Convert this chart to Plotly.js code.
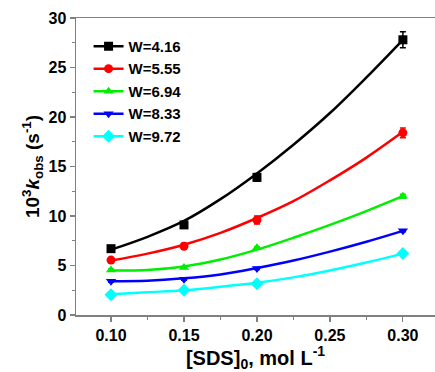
<!DOCTYPE html>
<html>
<head>
<meta charset="utf-8">
<script src="https://cdn.plot.ly/plotly-3.0.1.min.js"></script>
<style>html,body{margin:0;padding:0;background:#fff}#chart{width:435px;height:372px}</style>
</head>
<body>
<div id="chart"></div>
<script>
// measured points
const sds = [0.10, 0.15, 0.20, 0.30];
const k416 = [6.7, 9.1, 13.9, 27.8];
const k555 = [5.55, 6.95, 9.6, 18.4];
const k694 = [4.55, 4.8, 6.8, 12.0];
const k833 = [3.4, 3.6, 4.7, 8.5];
const k972 = [2.05, 2.5, 3.15, 6.2];
const err416 = [0.3, 0.3, 0.4, 0.8];
const err555 = [0.2, 0.3, 0.4, 0.5];
const err694 = [0.1, 0.1, 0.1, 0.2];
const err833 = [0.1, 0.1, 0.1, 0.1];
const err972 = [0.1, 0.1, 0.1, 0.1];
// fitted curves
const fitX = [0.10, 0.125, 0.15, 0.175, 0.20, 0.225, 0.25, 0.275, 0.30];
const fit416 = [6.6, 7.9, 9.5, 11.7, 14.3, 17.2, 20.4, 24.0, 27.8];
const fit555 = [5.5, 6.2, 7.1, 8.3, 9.8, 11.5, 13.6, 15.9, 18.5];
const fit694 = [4.5, 4.55, 4.9, 5.6, 6.6, 7.8, 9.1, 10.5, 12.0];
const fit833 = [3.4, 3.45, 3.7, 4.1, 4.75, 5.5, 6.4, 7.4, 8.5];
const fit972 = [2.1, 2.3, 2.5, 2.85, 3.25, 3.8, 4.5, 5.3, 6.2];
const names = ['W=4.16', 'W=5.55', 'W=6.94', 'W=8.33', 'W=9.72'];

const colors = ['#000000', '#ff0000', '#00ee00', '#0000ff', '#00ffff'];
const symbols = ['square', 'circle', 'triangle-up', 'triangle-down', 'diamond'];
const pts = [k416, k555, k694, k833, k972];
const errs = [err416, err555, err694, err833, err972];
const fits = [fit416, fit555, fit694, fit833, fit972];

const traces = [];
for (let i = 0; i < 5; i++) {
  traces.push({
    x: fitX, y: fits[i], mode: 'lines', type: 'scatter',
    line: {color: colors[i], width: 2.5, shape: 'spline'},
    showlegend: false, hoverinfo: 'skip'
  });
}
for (let i = 0; i < 5; i++) {
  traces.push({
    x: sds, y: pts[i], mode: 'markers', type: 'scatter', name: names[i],
    marker: {color: colors[i], symbol: symbols[i], size: i === 4 ? 10 : 9},
    error_y: {type: 'data', array: errs[i], visible: true, color: colors[i], thickness: 1.5, width: 3},
    showlegend: false
  });
}
// legend entries with line + marker
for (let i = 0; i < 5; i++) {
  traces.push({
    x: [null], y: [null], mode: 'lines+markers', type: 'scatter', name: names[i],
    marker: {color: colors[i], symbol: symbols[i], size: i === 4 ? 10 : 9},
    line: {color: colors[i], width: 2.5}
  });
}

const layout = {
  width: 435, height: 372,
  margin: {l: 76, r: 0, t: 18, b: 57},
  paper_bgcolor: '#fff', plot_bgcolor: '#fff',
  font: {family: 'Liberation Sans, Arial, sans-serif', color: '#000'},
  showlegend: true,
  legend: {
    x: 0.035, y: 0.96, xanchor: 'left', yanchor: 'top',
    bgcolor: 'rgba(0,0,0,0)', borderwidth: 0,
    font: {size: 15, family: 'Liberation Sans, Arial, sans-serif', color: '#000', weight: 'bold'},
    tracegroupgap: 0, itemwidth: 30
  },
  xaxis: {
    range: [0.076, 0.322], tick0: 0.1, dtick: 0.05, tickformat: '.2f',
    showgrid: false, zeroline: false,
    showline: true, linecolor: '#808080', linewidth: 1.5, mirror: true,
    ticks: 'outside', ticklen: 5, tickwidth: 1.2, tickcolor: '#808080',
    minor: {dtick: 0.025, tick0: 0.075, ticks: 'outside', ticklen: 3, tickcolor: '#808080', tickwidth: 1},
    tickfont: {size: 16, weight: 'bold', color: '#000'},
    automargin: false,
    title: {text: '[SDS]<sub>0</sub>, mol L<sup>-1</sup>', font: {size: 20, weight: 'bold', color: '#000'}, standoff: 8}
  },
  yaxis: {
    range: [0, 30], dtick: 5,
    showgrid: false, zeroline: false,
    showline: true, linecolor: '#808080', linewidth: 1.5,
    ticks: 'outside', ticklen: 5, tickwidth: 1.2, tickcolor: '#808080',
    minor: {dtick: 2.5, ticks: 'outside', ticklen: 3, tickcolor: '#808080', tickwidth: 1},
    tickfont: {size: 16, weight: 'bold', color: '#000'},
    automargin: false,
    title: {text: '10<sup>3</sup><i>k</i><sub>obs</sub> (s<sup>-1</sup>)', font: {size: 19, weight: 'bold', color: '#000'}, standoff: 4}
  }
};

Plotly.newPlot('chart', traces, layout, {displayModeBar: false, staticPlot: true});
</script>
</body>
</html>
